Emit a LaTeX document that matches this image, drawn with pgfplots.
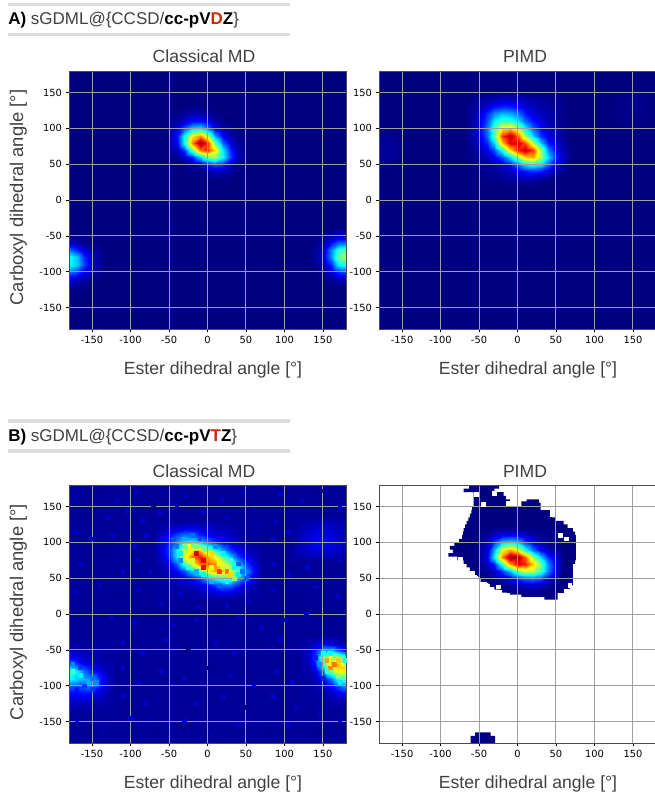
\documentclass[border=0pt]{standalone}
\usepackage{pgfplots}
\pgfplotsset{compat=1.18}
\usepackage{fontspec}
\setmainfont{Liberation Sans}
\newfontfamily\tickfont{DejaVu Sans}
\definecolor{txt}{HTML}{404040}
\definecolor{barc}{HTML}{DDDDDD}
\definecolor{redl}{HTML}{CC2A0A}
\pgfplotsset{
  hm/.style={
    scale only axis, width=207.75pt, height=193.5pt,
    xmin=-180,xmax=180,ymin=-180,ymax=180,
    xtick={-150,-100,-50,0,50,100,150},
    ytick={-150,-100,-50,0,50,100,150},
    grid=major, axis on top,
    major grid style={color=black!38!white, line width=0.75pt},
    axis line style={color=black!70, line width=0.5pt},
    tick style={color=black, line width=0.4pt},
    tick align=outside, major tick length=2.6pt,
    xtick pos=lower, ytick pos=left,
    colormap/jet, point meta min=0, point meta max=1,
    /pgf/number format/assume math mode=true,
    tick label style={font=\tickfont\fontsize{7.4}{8}\selectfont, color=black},
    xticklabel style={yshift=0.8pt}, yticklabel style={xshift=0.8pt},
  },
  ht/.style={surf, shader=interp, mesh/ordering=x varies},
  speck/.style={scatter, only marks, mark=square*, mark size=1.42pt, point meta=explicit,
    scatter/use mapped color={draw=mapped color, fill=mapped color}},
}
\begin{document}
\begin{tikzpicture}[x=0.75pt,y=-0.75pt]
\path[use as bounding box] (0,0) rectangle (655,792);
% headers
\fill[barc] (8,3) rectangle (290,6.5);
\fill[barc] (8,33) rectangle (290,36);
\fill[barc] (8,419) rectangle (290,422.5);
\fill[barc] (8,449) rectangle (290,452.5);
\node[anchor=base west,inner sep=0,text=txt,font=\fontsize{12.75}{14}\selectfont] at (8,25) {\textbf{\color{black}A)} sGDML@\{CCSD/\textbf{\color{black}cc-pV\textcolor{redl}{D}Z}\}};
\node[anchor=base west,inner sep=0,text=txt,font=\fontsize{12.75}{14}\selectfont] at (8,441) {\textbf{\color{black}B)} sGDML@\{CCSD/\textbf{\color{black}cc-pV\textcolor{redl}{T}Z}\}};
% titles and labels
\foreach \yy/\lab in {62.5/a,477/b}{
 \node[anchor=base,inner sep=0,text=txt,font=\fontsize{13.2}{14}\selectfont] at (204,\yy) {Classical MD};
 \node[anchor=base,inner sep=0,text=txt,font=\fontsize{13.2}{14}\selectfont] at (525,\yy) {PIMD};
}
\foreach \yy in {374,788.5}{
 \node[anchor=base,inner sep=0,text=txt,font=\fontsize{13.2}{14}\selectfont] at (213,\yy) {Ester dihedral angle [°]};
 \node[anchor=base,inner sep=0,text=txt,font=\fontsize{13.2}{14}\selectfont] at (528,\yy) {Ester dihedral angle [°]};
}
\node[rotate=90,anchor=base,inner sep=0,text=txt,font=\fontsize{13.8}{14}\selectfont] at (23,197.5) {Carboxyl dihedral angle [°]};
\node[rotate=90,anchor=base,inner sep=0,text=txt,font=\fontsize{13.8}{14}\selectfont] at (23,612) {Carboxyl dihedral angle [°]};

% ---------- A classical
\begin{axis}[hm, at={(51.75pt,-246.75pt)}, anchor=south west, axis background/.style={fill={rgb,1:red,0;green,0;blue,0.5}}]
\addplot[ht, mesh/cols=11, point meta=explicit] table[x=x,y=y,meta=v,row sep=\\]{
x y v\\
-50 130 0\\-40 130 0\\-30 130 0\\-20 130 .01\\-10 130 .01\\0 130 0\\10 130 0\\20 130 0\\30 130 0\\40 130 0\\50 130 0\\
-50 120 0\\-40 120 .01\\-30 120 .03\\-20 120 .05\\-10 120 .05\\0 120 .03\\10 120 .01\\20 120 0\\30 120 0\\40 120 0\\50 120 0\\
-50 110 .01\\-40 110 .03\\-30 110 .08\\-20 110 .13\\-10 110 .14\\0 110 .10\\10 110 .04\\20 110 .01\\30 110 0\\40 110 0\\50 110 0\\
-50 100 .01\\-40 100 .10\\-30 100 .20\\-20 100 .32\\-10 100 .34\\0 100 .24\\10 100 .10\\20 100 .04\\30 100 .01\\40 100 0\\50 100 0\\
-50 90 .02\\-40 90 .14\\-30 90 .38\\-20 90 .64\\-10 90 .74\\0 90 .57\\10 90 .28\\20 90 .11\\30 90 .04\\40 90 .01\\50 90 0\\
-50 80 .02\\-40 80 .12\\-30 80 .38\\-20 80 .74\\-10 80 1\\0 80 .85\\10 80 .48\\20 80 .22\\30 80 .08\\40 80 .02\\50 80 0\\
-50 70 .01\\-40 70 .05\\-30 70 .18\\-20 70 .46\\-10 70 .76\\0 70 .85\\10 70 .66\\20 70 .35\\30 70 .14\\40 70 .04\\50 70 .01\\
-50 60 0\\-40 60 .01\\-30 60 .06\\-20 60 .16\\-10 60 .33\\0 60 .50\\10 60 .54\\20 60 .38\\30 60 .18\\40 60 .05\\50 60 .01\\
-50 50 0\\-40 50 0\\-30 50 .01\\-20 50 .04\\-10 50 .08\\0 50 .15\\10 50 .22\\20 50 .18\\30 50 .08\\40 50 .02\\50 50 0\\
-50 40 0\\-40 40 0\\-30 40 0\\-20 40 .01\\-10 40 .01\\0 40 .03\\10 40 .06\\20 40 .06\\30 40 .03\\40 40 .01\\50 40 0\\
-50 30 0\\-40 30 0\\-30 30 0\\-20 30 0\\-10 30 0\\0 30 0\\10 30 .01\\20 30 .01\\30 30 0\\40 30 0\\50 30 0\\
-50 20 0\\-40 20 0\\-30 20 0\\-20 20 0\\-10 20 0\\0 20 0\\10 20 0\\20 20 0\\30 20 0\\40 20 0\\50 20 0\\
};
\addplot[ht, mesh/cols=6, point meta=explicit] table[x=x,y=y,meta=v,row sep=\\]{
x y v\\
-180 -50 0\\-170 -50 0\\-160 -50 0\\-150 -50 0\\-140 -50 0\\-130 -50 0\\
-180 -60 .06\\-170 -60 .04\\-160 -60 .02\\-150 -60 .01\\-140 -60 0\\-130 -60 0\\
-180 -70 .24\\-170 -70 .16\\-160 -70 .07\\-150 -70 .03\\-140 -70 .01\\-130 -70 0\\
-180 -80 .40\\-170 -80 .32\\-160 -80 .17\\-150 -80 .07\\-140 -80 .02\\-130 -80 0\\
-180 -90 .38\\-170 -90 .32\\-160 -90 .19\\-150 -90 .08\\-140 -90 .02\\-130 -90 0\\
-180 -100 .24\\-170 -100 .19\\-160 -100 .11\\-150 -100 .05\\-140 -100 .01\\-130 -100 0\\
-180 -110 .10\\-170 -110 .07\\-160 -110 .04\\-150 -110 .02\\-140 -110 0\\-130 -110 0\\
-180 -120 .03\\-170 -120 .02\\-160 -120 .01\\-150 -120 0\\-140 -120 0\\-130 -120 0\\
-180 -130 0\\-170 -130 0\\-160 -130 0\\-150 -130 0\\-140 -130 0\\-130 -130 0\\
};
\addplot[ht, mesh/cols=6, point meta=explicit] table[x=x,y=y,meta=v,row sep=\\]{
x y v\\
130 -40 0\\140 -40 0\\150 -40 0\\160 -40 0\\170 -40 .01\\180 -40 .01\\
130 -50 0\\140 -50 0\\150 -50 .02\\160 -50 .05\\170 -50 .07\\180 -50 .07\\
130 -60 0\\140 -60 .01\\150 -60 .05\\160 -60 .14\\170 -60 .22\\180 -60 .24\\
130 -70 0\\140 -70 .02\\150 -70 .08\\160 -70 .26\\170 -70 .42\\180 -70 .46\\
130 -80 0\\140 -80 .02\\150 -80 .08\\160 -80 .26\\170 -80 .48\\180 -80 .53\\
130 -90 0\\140 -90 .01\\150 -90 .05\\160 -90 .16\\170 -90 .35\\180 -90 .40\\
130 -100 0\\140 -100 0\\150 -100 .02\\160 -100 .07\\170 -100 .16\\180 -100 .20\\
130 -110 0\\140 -110 0\\150 -110 .01\\160 -110 .02\\170 -110 .05\\180 -110 .06\\
130 -120 0\\140 -120 0\\150 -120 0\\160 -120 0\\170 -120 .01\\180 -120 .01\\
};
\end{axis}

% ---------- A PIMD
\begin{axis}[hm, at={(284.25pt,-246.75pt)}, anchor=south west, axis background/.style={fill={rgb,1:red,0;green,0;blue,0.5}}]
\addplot[ht, mesh/cols=15, point meta=explicit] table[x=x,y=y,meta=v,row sep=\\]{
x y v\\
-70 150 0\\-60 150 0\\-50 150 0\\-40 150 0\\-30 150 .01\\-20 150 .01\\-10 150 .01\\0 150 .01\\10 150 0\\20 150 0\\30 150 0\\40 150 0\\50 150 0\\60 150 0\\70 150 0\\
-70 140 0\\-60 140 .01\\-50 140 .03\\-40 140 .04\\-30 140 .06\\-20 140 .07\\-10 140 .08\\0 140 .07\\10 140 .05\\20 140 .04\\30 140 .03\\40 140 .02\\50 140 .02\\60 140 .01\\70 140 0\\
-70 130 0\\-60 130 .02\\-50 130 .05\\-40 130 .09\\-30 130 .14\\-20 130 .17\\-10 130 .16\\0 130 .13\\10 130 .09\\20 130 .06\\30 130 .04\\40 130 .03\\50 130 .02\\60 130 .01\\70 130 0\\
-70 120 0\\-60 120 .03\\-50 120 .08\\-40 120 .17\\-30 120 .27\\-20 120 .32\\-10 120 .30\\0 120 .24\\10 120 .15\\20 120 .09\\30 120 .06\\40 120 .04\\50 120 .03\\60 120 .01\\70 120 0\\
-70 110 0\\-60 110 .03\\-50 110 .09\\-40 110 .20\\-30 110 .36\\-20 110 .44\\-10 110 .42\\0 110 .35\\10 110 .23\\20 110 .14\\30 110 .09\\40 110 .05\\50 110 .03\\60 110 .01\\70 110 0\\
-70 100 0\\-60 100 .04\\-50 100 .10\\-40 100 .24\\-30 100 .45\\-20 100 .64\\-10 100 .67\\0 100 .54\\10 100 .36\\20 100 .21\\30 100 .12\\40 100 .07\\50 100 .04\\60 100 .02\\70 100 0\\
-70 90 0\\-60 90 .04\\-50 90 .09\\-40 90 .22\\-30 90 .46\\-20 90 .82\\-10 90 .95\\0 90 .78\\10 90 .54\\20 90 .33\\30 90 .17\\40 90 .09\\50 90 .05\\60 90 .02\\70 90 0\\
-70 80 0\\-60 80 .03\\-50 80 .07\\-40 80 .16\\-30 80 .33\\-20 80 .68\\-10 80 .90\\0 80 .92\\10 80 .80\\20 80 .56\\30 80 .31\\40 80 .15\\50 80 .07\\60 80 .03\\70 80 0\\
-70 70 0\\-60 70 .02\\-50 70 .04\\-40 70 .10\\-30 70 .20\\-20 70 .40\\-10 70 .66\\0 70 .85\\10 70 .95\\20 70 .82\\30 70 .52\\40 70 .26\\50 70 .11\\60 70 .04\\70 70 0\\
-70 60 0\\-60 60 .01\\-50 60 .03\\-40 60 .06\\-30 60 .11\\-20 60 .20\\-10 60 .34\\0 60 .53\\10 60 .68\\20 60 .72\\30 60 .54\\40 60 .34\\50 60 .16\\60 60 .06\\70 60 0\\
-70 50 0\\-60 50 .01\\-50 50 .02\\-40 50 .03\\-30 50 .05\\-20 50 .09\\-10 50 .15\\0 50 .25\\10 50 .36\\20 50 .42\\30 50 .37\\40 50 .24\\50 50 .12\\60 50 .04\\70 50 0\\
-70 40 0\\-60 40 0\\-50 40 .01\\-40 40 .02\\-30 40 .02\\-20 40 .04\\-10 40 .06\\0 40 .10\\10 40 .15\\20 40 .17\\30 40 .15\\40 40 .10\\50 40 .05\\60 40 .02\\70 40 0\\
-70 30 0\\-60 30 0\\-50 30 0\\-40 30 .01\\-30 30 .01\\-20 30 .02\\-10 30 .03\\0 30 .04\\10 30 .05\\20 30 .04\\30 30 .03\\40 30 .01\\50 30 0\\60 30 0\\70 30 0\\
-70 20 0\\-60 20 0\\-50 20 0\\-40 20 0\\-30 20 0\\-20 20 0\\-10 20 0\\0 20 0\\10 20 0\\20 20 0\\30 20 0\\40 20 0\\50 20 0\\60 20 0\\70 20 0\\
};
\addplot[ht, mesh/cols=5, point meta=explicit] table[x=x,y=y,meta=v,row sep=\\]{
x y v\\
-180 100 0\\-170 100 0\\-160 100 0\\-150 100 0\\-140 100 0\\
-180 80 .02\\-170 80 .03\\-160 80 .02\\-150 80 .01\\-140 80 0\\
-180 60 .02\\-170 60 .03\\-160 60 .02\\-150 60 .01\\-140 60 0\\
-180 40 0\\-170 40 0\\-160 40 0\\-150 40 0\\-140 40 0\\
};
\addplot[ht, mesh/cols=5, point meta=explicit] table[x=x,y=y,meta=v,row sep=\\]{
x y v\\
120 160 0\\135 160 0\\150 160 0\\165 160 0\\180 160 0\\
120 140 0\\135 140 .01\\150 140 .02\\165 140 .01\\180 140 0\\
120 120 0\\135 120 .01\\150 120 .02\\165 120 .01\\180 120 0\\
120 100 0\\135 100 0\\150 100 0\\165 100 0\\180 100 0\\
};
\end{axis}

% ---------- B classical
\begin{axis}[hm, at={(51.75pt,-557.25pt)}, anchor=south west, axis background/.style={fill={rgb,1:red,0;green,0;blue,0.6}}]
\addplot[speck] table[x=x,y=y,meta=v,row sep=\\]{
x y v\\
-172 165 .05\\-140 172 .02\\-118 160 .06\\-92 170 .06\\-70 150 .02\\-30 165 .06\\-8 172 .02\\18 160 .06\\45 170 .05\\72 155 .02\\95 168 .07\\122 158 .06\\148 172 .02\\172 150 .06\\
-165 140 .02\\-130 135 .06\\-105 145 .06\\-85 130 .08\\-62 140 .08\\-40 150 .06\\-5 142 .07\\25 135 .06\\60 145 .05\\88 130 .06\\108 140 .02\\
-172 115 .06\\-150 105 .07\\-122 110 .06\\-95 95 .08\\-80 110 .08\\85 105 .08\\105 115 .07\\
-165 70 .07\\-135 85 .02\\-110 60 .08\\-90 75 .07\\-75 60 .08\\85 70 .07\\105 55 .06\\130 65 .08\\155 60 .02\\172 75 .06\\
-172 30 .06\\-140 40 .06\\-115 25 .02\\-90 35 .07\\-60 15 .06\\-35 28 .07\\-12 10 .06\\25 12 .07\\55 18 .06\\85 35 .06\\115 22 .02\\140 38 .07\\170 25 .06\\
-160 5 .02\\-125 -5 .06\\-95 -12 .07\\-70 -5 .02\\-45 -15 .06\\-15 -8 .06\\15 -15 .02\\40 -5 .06\\70 -18 .07\\100 -8 .06\\128 0 .06\\160 -12 .02\\
-110 -40 .08\\-85 -55 .07\\-55 -35 .06\\-25 -50 .02\\10 -40 .06\\35 -55 .06\\65 -45 .02\\95 -35 .07\\
-110 -75 .08\\-90 -95 .07\\-60 -80 .06\\-30 -90 .06\\0 -75 .02\\30 -85 .06\\60 -100 .06\\90 -80 .08\\110 -95 .08\\
-110 -115 .07\\-80 -125 .06\\-45 -110 .02\\-15 -125 .06\\20 -115 .06\\50 -130 .02\\85 -115 .07\\115 -130 .06\\145 -140 .05\\
-170 -150 .06\\-135 -160 .05\\-100 -145 .06\\-65 -165 .02\\-30 -150 .06\\5 -170 .05\\40 -155 .06\\75 -172 .02\\105 -155 .06\\140 -165 .02\\172 -150 .06\\
};
\addplot[ht, mesh/cols=5, point meta=explicit] table[x=x,y=y,meta=v,row sep=\\]{
x y v\\
110 135 .03\\127 135 .03\\145 135 .03\\162 135 .03\\180 135 .03\\
110 115 .03\\127 115 .07\\145 115 .10\\162 115 .08\\180 115 .05\\
110 95 .03\\127 95 .08\\145 95 .12\\162 95 .10\\180 95 .07\\
110 75 .03\\127 75 .03\\145 75 .03\\162 75 .03\\180 75 .03\\
};
\addplot[ht, mesh/cols=15, point meta=explicit] table[x=x,y=y,meta=v,row sep=\\]{
x y v\\
-70 130 .03\\-60 130 .03\\-50 130 .03\\-40 130 .03\\-30 130 .03\\-20 130 .03\\-10 130 .03\\0 130 .03\\10 130 .03\\20 130 .03\\30 130 .03\\40 130 .03\\50 130 .03\\60 130 .03\\70 130 .03\\
-70 120 .03\\-60 120 .04\\-50 120 .06\\-40 120 .08\\-30 120 .10\\-20 120 .10\\-10 120 .09\\0 120 .08\\10 120 .06\\20 120 .05\\30 120 .04\\40 120 .03\\50 120 .03\\60 120 .03\\70 120 .03\\
-70 110 .03\\-60 110 .07\\-50 110 .14\\-40 110 .20\\-30 110 .24\\-20 110 .22\\-10 110 .16\\0 110 .12\\10 110 .09\\20 110 .08\\30 110 .06\\40 110 .04\\50 110 .03\\60 110 .03\\70 110 .03\\
-70 100 .04\\-60 100 .09\\-50 100 .16\\-40 100 .27\\-30 100 .36\\-20 100 .38\\-10 100 .32\\0 100 .24\\10 100 .17\\20 100 .12\\30 100 .09\\40 100 .06\\50 100 .04\\60 100 .03\\70 100 .03\\
-70 90 .04\\-60 90 .08\\-50 90 .18\\-40 90 .38\\-30 90 .56\\-20 90 .64\\-10 90 .68\\0 90 .54\\10 90 .40\\20 90 .27\\30 90 .17\\40 90 .10\\50 90 .06\\60 90 .04\\70 90 .03\\
-70 80 .03\\-60 80 .07\\-50 80 .16\\-40 80 .36\\-30 80 .58\\-20 80 .76\\-10 80 .86\\0 80 .72\\10 80 .62\\20 80 .47\\30 80 .32\\40 80 .19\\50 80 .10\\60 80 .06\\70 80 .03\\
-70 70 .03\\-60 70 .04\\-50 70 .10\\-40 70 .22\\-30 70 .42\\-20 70 .60\\-10 70 .76\\0 70 .80\\10 70 .74\\20 70 .62\\30 70 .48\\40 70 .32\\50 70 .18\\60 70 .09\\70 70 .03\\
-70 60 .03\\-60 60 .03\\-50 60 .06\\-40 60 .12\\-30 60 .20\\-20 60 .33\\-10 60 .47\\0 60 .60\\10 60 .72\\20 60 .68\\30 60 .58\\40 60 .44\\50 60 .27\\60 60 .13\\70 60 .04\\
-70 50 .03\\-60 50 .03\\-50 50 .04\\-40 50 .06\\-30 50 .10\\-20 50 .14\\-10 50 .20\\0 50 .30\\10 50 .40\\20 50 .46\\30 50 .45\\40 50 .32\\50 50 .20\\60 50 .09\\70 50 .04\\
-70 40 .03\\-60 40 .03\\-50 40 .03\\-40 40 .04\\-30 40 .05\\-20 40 .07\\-10 40 .09\\0 40 .13\\10 40 .18\\20 40 .24\\30 40 .23\\40 40 .16\\50 40 .09\\60 40 .05\\70 40 .03\\
-70 30 .03\\-60 30 .03\\-50 30 .03\\-40 30 .03\\-30 30 .03\\-20 30 .03\\-10 30 .05\\0 30 .06\\10 30 .08\\20 30 .10\\30 30 .09\\40 30 .06\\50 30 .04\\60 30 .03\\70 30 .03\\
-70 20 .03\\-60 20 .03\\-50 20 .03\\-40 20 .03\\-30 20 .03\\-20 20 .03\\-10 20 .03\\0 20 .03\\10 20 .03\\20 20 .03\\30 20 .03\\40 20 .03\\50 20 .03\\60 20 .03\\70 20 .03\\
};
\addplot[ht, mesh/cols=7, point meta=explicit] table[x=x,y=y,meta=v,row sep=\\]{
x y v\\
-180 -40 .03\\-170 -40 .03\\-160 -40 .03\\-150 -40 .03\\-140 -40 .03\\-130 -40 .03\\-120 -40 .03\\
-180 -50 .05\\-170 -50 .04\\-160 -50 .03\\-150 -50 .03\\-140 -50 .03\\-130 -50 .03\\-120 -50 .03\\
-180 -60 .12\\-170 -60 .10\\-160 -60 .07\\-150 -60 .05\\-140 -60 .04\\-130 -60 .03\\-120 -60 .03\\
-180 -70 .22\\-170 -70 .18\\-160 -70 .12\\-150 -70 .08\\-140 -70 .05\\-130 -70 .04\\-120 -70 .03\\
-180 -80 .42\\-170 -80 .36\\-160 -80 .24\\-150 -80 .15\\-140 -80 .10\\-130 -80 .05\\-120 -80 .03\\
-180 -90 .38\\-170 -90 .34\\-160 -90 .30\\-150 -90 .28\\-140 -90 .16\\-130 -90 .07\\-120 -90 .03\\
-180 -100 .22\\-170 -100 .20\\-160 -100 .22\\-150 -100 .25\\-140 -100 .14\\-130 -100 .07\\-120 -100 .03\\
-180 -110 .13\\-170 -110 .13\\-160 -110 .14\\-150 -110 .12\\-140 -110 .08\\-130 -110 .05\\-120 -110 .03\\
-180 -120 .07\\-170 -120 .08\\-160 -120 .08\\-150 -120 .07\\-140 -120 .05\\-130 -120 .04\\-120 -120 .03\\
-180 -130 .04\\-170 -130 .04\\-160 -130 .04\\-150 -130 .04\\-140 -130 .03\\-130 -130 .03\\-120 -130 .03\\
-180 -140 .03\\-170 -140 .03\\-160 -140 .03\\-150 -140 .03\\-140 -140 .03\\-130 -140 .03\\-120 -140 .03\\
};
\addplot[ht, mesh/cols=7, point meta=explicit] table[x=x,y=y,meta=v,row sep=\\]{
x y v\\
120 -30 .03\\130 -30 .03\\140 -30 .03\\150 -30 .03\\160 -30 .03\\170 -30 .03\\180 -30 .03\\
120 -40 .03\\130 -40 .04\\140 -40 .07\\150 -40 .10\\160 -40 .08\\170 -40 .05\\180 -40 .04\\
120 -50 .03\\130 -50 .06\\140 -50 .14\\150 -50 .30\\160 -50 .30\\170 -50 .20\\180 -50 .10\\
120 -60 .03\\130 -60 .07\\140 -60 .20\\150 -60 .48\\160 -60 .65\\170 -60 .55\\180 -60 .42\\
120 -70 .03\\130 -70 .05\\140 -70 .15\\150 -70 .42\\160 -70 .68\\170 -70 .70\\180 -70 .55\\
120 -80 .03\\130 -80 .04\\140 -80 .08\\150 -80 .25\\160 -80 .50\\170 -80 .65\\180 -80 .60\\
120 -90 .03\\130 -90 .03\\140 -90 .05\\150 -90 .12\\160 -90 .24\\170 -90 .40\\180 -90 .45\\
120 -100 .03\\130 -100 .03\\140 -100 .04\\150 -100 .07\\160 -100 .12\\170 -100 .20\\180 -100 .28\\
120 -110 .03\\130 -110 .03\\140 -110 .03\\150 -110 .04\\160 -110 .06\\170 -110 .10\\180 -110 .12\\
120 -120 .03\\130 -120 .03\\140 -120 .03\\150 -120 .03\\160 -120 .04\\170 -120 .05\\180 -120 .05\\
120 -130 .03\\130 -130 .03\\140 -130 .03\\150 -130 .03\\160 -130 .03\\170 -130 .03\\180 -130 .03\\
};
\addplot[speck] table[x=x,y=y,meta=v,row sep=\\]{
x y v\\
-15 85 .90\\-5 75 .90\\-25 95 .60\\-15 95 .50\\-5 90 .50\\5 85 .66\\-20 75 .58\\-5 65 .88\\5 65 .62\\15 70 .60\\15 60 .82\\20 65 .58\\25 60 .76\\30 55 .66\\35 65 .38\\25 45 .38\\35 50 .52\\40 55 .36\\-35 85 .36\\-40 95 .24\\-45 105 .20\\-30 105 .30\\-20 110 .24\\-35 75 .26\\-10 105 .20\\10 95 .26\\20 85 .36\\30 75 .44\\40 70 .22\\45 60 .24\\50 50 .22\\15 40 .22\\5 45 .30\\-5 55 .38\\-15 60 .30\\-25 65 .42\\-30 95 .48\\
155 -65 .72\\165 -60 .52\\160 -75 .74\\165 -70 .76\\170 -65 .68\\150 -55 .40\\145 -70 .26\\175 -75 .66\\170 -85 .52\\155 -80 .44\\160 -55 .38\\178 -65 .42\\172 -95 .36\\150 -90 .16\\140 -60 .15\\145 -45 .12\\
-175 -80 .44\\-170 -90 .32\\-165 -85 .36\\-155 -95 .30\\-150 -90 .24\\-145 -95 .26\\-175 -70 .26\\-165 -75 .18\\-160 -100 .18\\-150 -105 .18\\-140 -85 .14\\-135 -95 .11\\-170 -105 .14\\-155 -115 .11\\-165 -65 .11\\
};
\end{axis}

% ---------- B PIMD
\begin{axis}[hm, at={(284.25pt,-557.25pt)}, anchor=south west]
\addplot[fill={rgb,1:red,0;green,0;blue,0.5}, draw=none] coordinates {
(-63,180)(-24,180)(-24,175)(-30,175)(-30,170)(-18,170)(-18,165)(-15,165)(-15,160)(-10,160)(-10,155)(-15,155)(-15,150)(30,150)(30,145)(42,145)(42,140)(45,140)(45,135)(50,135)(50,130)(60,130)(60,125)(65,125)(65,120)(72,120)(72,115)(75,115)(75,110)(76,110)(76,80)(76,75)(75,75)(75,70)(72,70)(72,45)(72,40)(68,40)(68,35)(60,35)(60,30)(52,30)(52,20)(35,20)(35,24)(5,24)(5,27)(-10,27)(-10,30)(-20,30)(-20,34)(-30,34)(-30,38)(-36,38)(-36,42)(-38,42)(-38,45)(-48,45)(-48,50)(-50,50)(-50,55)(-60,55)(-60,60)(-62,60)(-62,65)(-66,65)(-66,70)(-70,70)(-70,75)(-78,75)(-78,80)(-90,80)(-90,85)(-84,85)(-84,90)(-88,90)(-88,95)(-82,95)(-82,100)(-76,100)(-76,105)(-72,105)(-72,110)(-71,110)(-71,115)(-70,115)(-70,120)(-68,120)(-68,125)(-66,125)(-66,130)(-64,130)(-64,135)(-62,135)(-62,140)(-60,140)(-60,145)(-59,145)(-59,150)(-57,150)(-57,170)(-70,170)(-70,175)(-63,175)(-63,180)
};
\addplot[fill={rgb,1:red,0;green,0;blue,0.5}, draw=none] coordinates {(5,150)(5,157)(12,157)(12,160)(28,160)(28,155)(30,155)(30,150)(5,150)};
\addplot[fill={rgb,1:red,0;green,0;blue,0.5}, draw=none] coordinates {(-61,-180)(-61,-170)(-55,-170)(-55,-165)(-35,-165)(-35,-170)(-29,-170)(-29,-180)(-61,-180)};
\addplot[only marks, mark=square*, mark size=1.42pt, color=white] coordinates {(45,139)(56,110)(63,105)(-74,77)(-45,153)(-59,57)(-54,167)(-30,168)(-12,155)(68,40)(-40,33)(-25,38)};
\addplot[ht, mesh/cols=13, point meta=explicit] table[x=x,y=y,meta=v,row sep=\\]{
x y v\\
-60 120 0\\-50 120 0\\-40 120 0\\-30 120 .01\\-20 120 .01\\-10 120 .01\\0 120 .01\\10 120 0\\20 120 0\\30 120 0\\40 120 0\\50 120 0\\60 120 0\\
-60 110 0\\-50 110 .01\\-40 110 .03\\-30 110 .07\\-20 110 .11\\-10 110 .12\\0 110 .11\\10 110 .07\\20 110 .04\\30 110 .02\\40 110 .01\\50 110 0\\60 110 0\\
-60 100 0\\-50 100 .02\\-40 100 .07\\-30 100 .18\\-20 100 .32\\-10 100 .35\\0 100 .30\\10 100 .18\\20 100 .10\\30 100 .05\\40 100 .02\\50 100 .01\\60 100 0\\
-60 90 0\\-50 90 .02\\-40 90 .08\\-30 90 .30\\-20 90 .62\\-10 90 .72\\0 90 .60\\10 90 .40\\20 90 .23\\30 90 .11\\40 90 .05\\50 90 .02\\60 90 0\\
-60 80 0\\-50 80 .02\\-40 80 .10\\-30 80 .36\\-20 80 .74\\-10 80 1\\0 80 .97\\10 80 .78\\20 80 .52\\30 80 .32\\40 80 .16\\50 80 .07\\60 80 0\\
-60 70 0\\-50 70 .01\\-40 70 .05\\-30 70 .16\\-20 70 .42\\-10 70 .72\\0 70 .90\\10 70 .85\\20 70 .68\\30 70 .48\\40 70 .26\\50 70 .10\\60 70 0\\
-60 60 0\\-50 60 .01\\-40 60 .02\\-30 60 .06\\-20 60 .18\\-10 60 .32\\0 60 .50\\10 60 .58\\20 60 .56\\30 60 .44\\40 60 .26\\50 60 .10\\60 60 0\\
-48 50 0\\-48 50 0\\-40 50 0\\-30 50 .02\\-20 50 .05\\-10 50 .10\\0 50 .18\\10 50 .24\\20 50 .26\\30 50 .22\\40 50 .13\\50 50 .05\\60 50 0\\
-36 42 0\\-36 42 0\\-36 42 0\\-30 40 0\\-20 40 .01\\-10 40 .03\\0 40 .05\\10 40 .07\\20 40 .08\\30 40 .06\\40 40 .03\\50 40 .01\\60 40 0\\
-20 34 0\\-20 34 0\\-20 34 0\\-20 34 0\\-20 34 0\\-10 30 0\\0 30 0\\10 30 0\\20 30 0\\30 30 0\\40 30 0\\50 30 0\\60 30 0\\
};
\end{axis}
\end{tikzpicture}
\end{document}
